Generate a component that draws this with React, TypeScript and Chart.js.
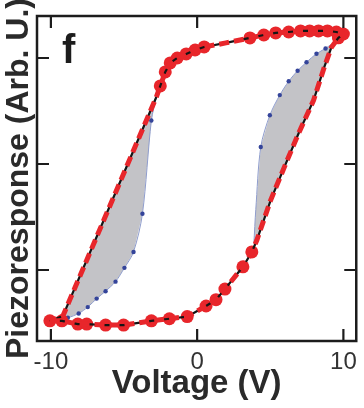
import React, { useEffect, useRef } from "react";
import { Chart, registerables } from "chart.js";

Chart.register(...registerables);

// Forward sweep (-10 V -> +10 V): voltage, piezoresponse, marker flag
const upV = [-10.07, -9.25, -8.16, -7.55, -6.26, -5.03, -3.13, -1.9, -0.68, 0.61, 1.29, 1.9, 3.13, 3.74, 4.08, 5.03, 5.99, 6.94, 7.96, 8.71, 9.18, 9.66, 10.0];
const upP = [-1.48, -1.48, -1.51, -1.51, -1.52, -1.52, -1.48, -1.46, -1.44, -1.34, -1.28, -1.18, -0.97, -0.83, -0.72, -0.34, -0.02, 0.29, 0.6, 0.92, 1.1, 1.19, 1.226];
const upMark = [1, 1, 1, 1, 1, 1, 1, 1, 1, 1, 1, 1, 1, 1, 0, 0, 0, 0, 0, 0, 0, 1, 1];

// Reverse sweep (+10 V -> -10 V)
const downV = [10.0, 9.52, 8.91, 8.3, 7.69, 7.07, 6.26, 5.37, 4.56, 3.61, 1.97, 0.48, -0.14, -0.75, -1.36, -1.84, -2.18, -2.52, -2.79, -9.18, -10.07];
const downP = [1.226, 1.245, 1.255, 1.255, 1.255, 1.255, 1.245, 1.236, 1.217, 1.189, 1.142, 1.104, 1.075, 1.038, 1.0, 0.953, 0.868, 0.736, 0.632, -1.434, -1.481];
const downMark = [0, 1, 1, 1, 1, 1, 1, 1, 1, 1, 0, 1, 1, 1, 1, 1, 1, 1, 0, 0, 0];

// Second (blue) loop, inner branches
const blueLeftV = [-9.25, -8.84, -8.1, -7.48, -6.87, -6.26, -5.58, -4.97, -4.35, -3.74, -3.13, -2.79];
const blueLeftP = [-1.45, -1.45, -1.41, -1.35, -1.27, -1.2, -1.11, -0.98, -0.83, -0.47, 0.41, 0.632];
const blueLeftMark = [0, 1, 1, 1, 1, 1, 1, 1, 1, 1, 1, 0];

const blueRightV = [3.88, 4.01, 4.35, 4.97, 5.65, 6.26, 6.87, 7.48, 8.16, 8.78, 9.18];
const blueRightP = [-0.75, -0.43, 0.16, 0.46, 0.65, 0.78, 0.88, 0.96, 1.04, 1.09, 1.13];
const blueRightMark = [0, 0, 1, 1, 1, 1, 1, 1, 1, 1, 0];

const xTicks = [-10, 0, 10];
const yTicks = [-1, 0, 1];
const xRange = [-10.95, 10.88];
const yRange = [-1.67, 1.396];

const xTitle = "Voltage (V)";
const yTitle = "Piezoresponse (Arb. U.)";
const panelLabel = "f";

const RED = "#e8262b";
const FONT = '"Liberation Sans", Arial, Helvetica, sans-serif';

const pts = (v: number[], p: number[]) => v.map((x, i) => ({ x, y: p[i] }));
const marked = (v: number[], p: number[], m: number[]) =>
  v.map((x, i) => ({ x, y: p[i], m: m[i] })).filter((d) => d.m).map((d) => ({ x: d.x, y: d.y }));

export default function App() {
  const ref = useRef<HTMLCanvasElement>(null);

  useEffect(() => {
    if (!ref.current) return;
    const redPath = [...pts(upV, upP), ...pts(downV, downP)];
    const redDots = [...marked(upV, upP, upMark), ...marked(downV, downP, downMark)];
    const blueLeft = pts(blueLeftV, blueLeftP);
    const blueRight = pts(blueRightV, blueRightP);
    const leftLobe = [...blueLeft, ...pts(downV, downP).slice(18, 20)];
    const rightLobe = [...blueRight, ...pts(upV, upP).slice(14, 21).reverse()];

    const framePlugin = {
      id: "frame",
      afterDatasetsDraw(chart: any) {
        const { ctx, chartArea: a, scales } = chart;
        const x = scales.x;
        const y = scales.y;
        ctx.save();
        ctx.strokeStyle = "#1c1c1c";
        ctx.lineWidth = 2.5;
        ctx.strokeRect(a.left, a.top, a.right - a.left, a.bottom - a.top);
        ctx.lineWidth = 2.2;
        ctx.beginPath();
        for (const v of xTicks) {
          const px = x.getPixelForValue(v);
          ctx.moveTo(px, a.bottom);
          ctx.lineTo(px, a.bottom - 12);
          ctx.moveTo(px, a.top);
          ctx.lineTo(px, a.top + 12);
        }
        for (const v of yTicks) {
          const py = y.getPixelForValue(v);
          ctx.moveTo(a.left, py);
          ctx.lineTo(a.left + 12, py);
          ctx.moveTo(a.right, py);
          ctx.lineTo(a.right - 12, py);
        }
        ctx.stroke();
        ctx.font = `bold 40px ${FONT}`;
        ctx.fillStyle = "#1c1c1c";
        ctx.textBaseline = "alphabetic";
        ctx.fillText(panelLabel, a.left + 25, a.top + 47);
        ctx.restore();
      },
    };

    const chart = new Chart(ref.current, {
      type: "scatter",
      data: {
        datasets: [
          {
            data: redPath,
            showLine: true,
            borderColor: RED,
            borderWidth: 5,
            borderDash: [10, 5],
            pointRadius: 0,
            tension: 0,
          },
          {
            data: redPath,
            showLine: true,
            borderColor: "#151515",
            borderWidth: 2.2,
            pointRadius: 0,
            tension: 0,
          },
          {
            data: redDots,
            showLine: false,
            pointRadius: 6.5,
            pointBackgroundColor: RED,
            pointBorderWidth: 0,
            borderWidth: 0,
          },
          {
            data: blueLeft,
            showLine: true,
            borderColor: "#8e9ccc",
            borderWidth: 1,
            pointRadius: blueLeftMark.map((m) => (m ? 2.2 : 0)),
            pointBackgroundColor: "#34449a",
            pointBorderWidth: 0,
            tension: 0.3,
          },
          {
            data: blueRight,
            showLine: true,
            borderColor: "#8e9ccc",
            borderWidth: 1,
            pointRadius: blueRightMark.map((m) => (m ? 2.2 : 0)),
            pointBackgroundColor: "#34449a",
            pointBorderWidth: 0,
            tension: 0.3,
          },
          {
            data: leftLobe,
            showLine: true,
            borderWidth: 0,
            borderColor: "rgba(0,0,0,0)",
            backgroundColor: "#c3c3c7",
            fill: "shape",
            pointRadius: 0,
            tension: 0,
          },
          {
            data: rightLobe,
            showLine: true,
            borderWidth: 0,
            borderColor: "rgba(0,0,0,0)",
            backgroundColor: "#c3c3c7",
            fill: "shape",
            pointRadius: 0,
            tension: 0,
          },
        ],
      },
      options: {
        animation: false,
        responsive: false,
        devicePixelRatio: 1,
        layout: { padding: { top: 16, right: 6, left: 0, bottom: 0 } },
        plugins: { legend: { display: false }, tooltip: { enabled: false } },
        scales: {
          x: {
            type: "linear",
            min: xRange[0],
            max: xRange[1],
            grid: { display: false, drawTicks: false },
            border: { display: false },
            afterBuildTicks: (s: any) => {
              s.ticks = xTicks.map((value) => ({ value }));
            },
            afterFit: (s: any) => {
              s.height = 67;
            },
            ticks: {
              padding: 7,
              color: "#333",
              font: { family: FONT, size: 24 },
              maxRotation: 0,
              callback: (v: any) => String(v),
            },
            title: {
              display: true,
              text: xTitle,
              color: "#2a2a2a",
              font: { family: FONT, size: 33, weight: "bold" },
              padding: { top: 0, bottom: 4 },
            },
          },
          y: {
            type: "linear",
            min: yRange[0],
            max: yRange[1],
            grid: { display: false, drawTicks: false },
            border: { display: false },
            afterBuildTicks: (s: any) => {
              s.ticks = yTicks.map((value) => ({ value }));
            },
            afterFit: (s: any) => {
              s.width = 37;
            },
            ticks: { display: false },
            title: {
              display: true,
              text: yTitle,
              color: "#2a2a2a",
              font: { family: FONT, size: 32, weight: "bold" },
              padding: { top: 0, bottom: 0 },
            },
          },
        },
      },
      plugins: [framePlugin],
    } as any);
    return () => chart.destroy();
  }, []);

  return (
    <div style={{ position: "fixed", left: 0, top: 0, width: 364, height: 408, background: "#fff" }}>
      <canvas ref={ref} width={364} height={408} style={{ display: "block" }} />
    </div>
  );
}
